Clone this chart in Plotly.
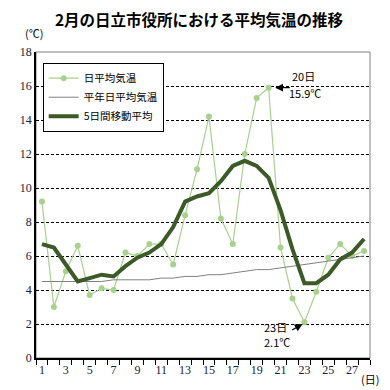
import plotly.graph_objects as go

days = list(range(1, 29))
daily = [9.2, 3.0, 5.1, 6.6, 3.7, 4.1, 4.0, 6.2, 6.0, 6.7, 6.7, 5.5, 8.4, 11.1,
         14.2, 8.2, 6.7, 12.0, 15.3, 15.9, 6.5, 3.5, 2.1, 3.9, 5.9, 6.7, 6.0, 6.3]
normal = [4.5, 4.5, 4.5, 4.5, 4.5, 4.5, 4.6, 4.6, 4.6, 4.6, 4.7, 4.7, 4.8, 4.8,
          4.9, 4.9, 5.0, 5.1, 5.2, 5.2, 5.3, 5.4, 5.5, 5.6, 5.7, 5.8, 5.9, 6.0]
moving = [6.7, 6.5, 5.5, 4.5, 4.7, 4.9, 4.8, 5.4, 5.9, 6.2, 6.7, 7.7, 9.2, 9.5,
          9.7, 10.4, 11.3, 11.6, 11.3, 10.6, 8.7, 6.4, 4.4, 4.4, 4.9, 5.8, 6.2, 7.0]
x_labels = [str(d) for d in range(1, 29, 2)]
names = ["日平均気温", "平年日平均気温", "5日間移動平均"]

JP = "Noto Sans CJK JP"
SERIF = "Liberation Serif"

fig = go.Figure()
fig.add_trace(go.Scatter(x=days, y=daily, name=names[0], mode="lines+markers",
                         line=dict(color="#a9d18e", width=1.2),
                         marker=dict(color="#a9d18e", size=6)))
fig.add_trace(go.Scatter(x=days, y=normal, name=names[1], mode="lines",
                         line=dict(color="#808080", width=1)))
fig.add_trace(go.Scatter(x=days, y=moving, name=names[2], mode="lines",
                         line=dict(color="#3b5a27", width=4)))

fig.update_layout(
    width=382, height=382,
    margin=dict(l=14, r=20, t=44, b=32),
    plot_bgcolor="white", paper_bgcolor="white",
    title=dict(text="<b>2月の日立市役所における平均気温の推移</b>",
               x=0.5, xanchor="center", y=0.968, yanchor="middle",
               font=dict(family=JP, size=15.5, color="black")),
    showlegend=True,
    legend=dict(x=0.02, y=0.965, xanchor="left", yanchor="top",
                bgcolor="white", bordercolor="black", borderwidth=1,
                font=dict(family=JP, size=10.5, color="black"),
                tracegroupgap=0, itemwidth=30),
    xaxis=dict(range=[0.5, 28.5], tickvals=list(range(1, 29, 2)), ticktext=x_labels,
               ticks="", showgrid=False, zeroline=False,
               showline=True, linecolor="black", linewidth=1.5,
               tickfont=dict(family=SERIF, size=12, color="#1a1a3a"),
               minor=dict(tickvals=[i + 0.5 for i in range(0, 29)], ticks="outside",
                          ticklen=5, tickcolor="black", showgrid=False)),
    yaxis=dict(range=[0, 18], dtick=2, showgrid=True, gridcolor="black",
               griddash="3px,2px", gridwidth=1, zeroline=False,
               showline=True, linecolor="black", linewidth=1.5, ticks="",
               tickfont=dict(family=SERIF, size=12, color="#1a1a3a")),
    shapes=[dict(type="rect", xref="paper", yref="paper", x0=0, x1=1, y0=0, y1=1,
                 line=dict(color="#808080", width=1), layer="below")],
)

ann_font = dict(family=JP, size=11, color="black")
fig.add_annotation(xref="paper", yref="paper", x=-0.040, y=1.062, text="(℃)",
                   showarrow=False, xanchor="left", yanchor="middle", font=ann_font)
fig.add_annotation(xref="paper", yref="paper", x=0.968, y=-0.068, text="(日)",
                   showarrow=False, xanchor="left", yanchor="middle", font=ann_font)

# 20日 annotation
fig.add_annotation(x=20.55, y=15.9, ax=21.9, ay=15.9, axref="x", ayref="y",
                   text="", showarrow=True, arrowhead=2, arrowsize=1.2,
                   arrowwidth=1.3, arrowcolor="black")
fig.add_annotation(x=21.8, y=16.6, text="20日", showarrow=False,
                   xanchor="left", yanchor="middle", font=ann_font)
fig.add_annotation(x=21.55, y=15.6, text="15.9℃", showarrow=False,
                   xanchor="left", yanchor="middle", font=ann_font)

# 23日 annotation
fig.add_annotation(x=22.85, y=2.0, ax=21.85, ay=1.6, axref="x", ayref="y",
                   text="", showarrow=True, arrowhead=2, arrowsize=1.2,
                   arrowwidth=1.3, arrowcolor="black")
fig.add_annotation(x=19.45, y=1.8, text="23日", showarrow=False,
                   xanchor="left", yanchor="middle", font=ann_font)
fig.add_annotation(x=19.45, y=0.92, text="2.1℃", showarrow=False,
                   xanchor="left", yanchor="middle", font=ann_font)

fig.write_html("out.html")
